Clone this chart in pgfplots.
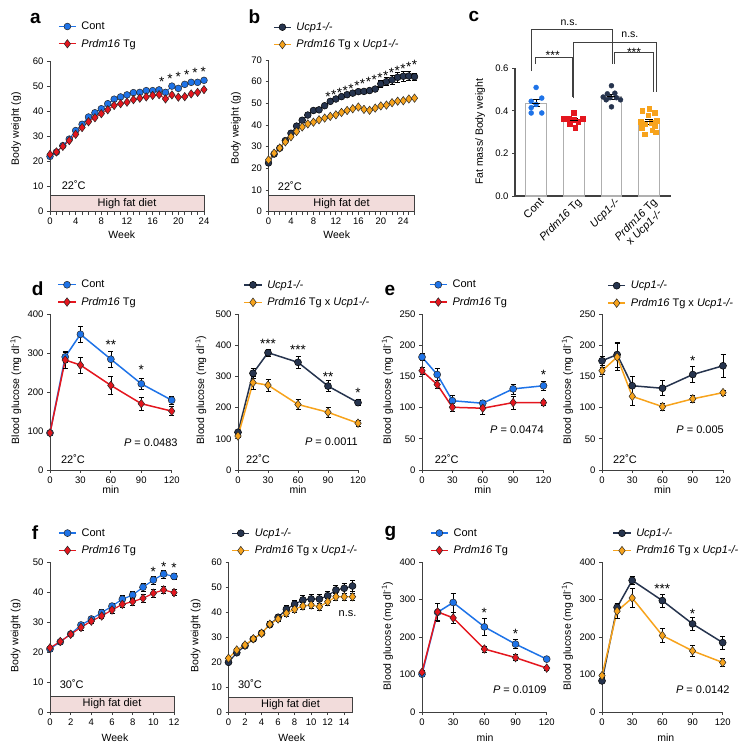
\documentclass[border=0pt]{standalone}
\usepackage{fontspec}
\setmainfont{Liberation Sans}
\usepackage{pgfplots}
\pgfplotsset{compat=1.18}
\definecolor{cblue}{RGB}{30,115,232}
\definecolor{cred}{RGB}{228,22,30}
\definecolor{cnavy}{RGB}{38,52,78}
\definecolor{corange}{RGB}{247,163,28}
\definecolor{axcol}{RGB}{64,64,64}
\definecolor{hfd}{RGB}{242,220,219}
\definecolor{bargray}{RGB}{175,175,175}
\tikzset{txt/.style={font=\fontsize{11}{12}\selectfont, inner sep=1pt},
  ast/.style={font=\fontsize{13.5}{14}\selectfont, yshift=-2.5pt, inner sep=0pt}}
\pgfplotsset{
  myaxis/.style={
    scale only axis, anchor=south west, clip=false,
    axis lines=left, axis line style={-, draw=axcol, line width=0.8pt},
    tick align=outside, major tick length=3pt, minor tick length=3pt,
    tick style={draw=axcol, line width=0.8pt},
    tick label style={font=\fontsize{9.5}{10}\selectfont, text=black},
    /pgf/number format/assume math mode=true,
    label style={font=\fontsize{10.5}{12}\selectfont},
    xlabel style={anchor=center}, ylabel style={anchor=center},
    legend style={draw=none, fill=none, anchor=north west, font=\fontsize{11}{13}\selectfont, row sep=4pt, inner sep=0pt, column sep=3pt},
    legend cell align=left,
    error bars/error bar style={black, line width=0.6pt},
    error bars/error mark options={rotate=90, mark size=2.5pt, black, line width=0.6pt},
  },
  pb/.style={cblue, line width=1.5pt, mark=*, mark size=3.5pt, mark options={solid, fill=cblue, draw=black!85, line width=0.5pt}},
  pr/.style={cred, line width=1.5pt, mark=diamond*, mark size=4.3pt, mark options={solid, fill=cred, draw=black!85, line width=0.5pt}},
  pn/.style={cnavy, line width=1.5pt, mark=*, mark size=3.5pt, mark options={solid, fill=cnavy, draw=black, line width=0.5pt}},
  po/.style={corange, line width=1.5pt, mark=diamond*, mark size=4.3pt, mark options={solid, fill=corange, draw=black!85, line width=0.5pt}},
  eb/.style={error bars/.cd, y dir=both, y explicit},
}
\begin{document}
\begin{tikzpicture}[x=1pt,y=1pt]
\path[use as bounding box] (0,0) rectangle (751,751);
% panel letters
\node[anchor=base west, font=\fontsize{19}{20}\selectfont\bfseries] at (26.7,727) {a};
\node[anchor=base west, font=\fontsize{19}{20}\selectfont\bfseries] at (245,727.7) {b};
\node[anchor=base west, font=\fontsize{19}{20}\selectfont\bfseries] at (465,729) {c};
\node[anchor=base west, font=\fontsize{19}{20}\selectfont\bfseries] at (28.3,455) {d};
\node[anchor=base west, font=\fontsize{19}{20}\selectfont\bfseries] at (381,455) {e};
\node[anchor=base west, font=\fontsize{19}{20}\selectfont\bfseries] at (28.3,211.7) {f};
\node[anchor=base west, font=\fontsize{19}{20}\selectfont\bfseries] at (381,214) {g};

% ---------------- a
\begin{axis}[myaxis, at={(50pt,539.3pt)}, width=154pt, height=150.7pt,
  xmin=0, xmax=24, ymin=0, ymax=60, xtick={0,4,...,24}, minor xtick={0,1,...,24}, ytick={0,10,...,60},
  xlabel={Week}, ylabel={Body weight (g)},
  xlabel style={at={(axis description cs:0.466,-0.15)}},
  ylabel style={at={(axis description cs:-0.22,0.55)}},
  legend style={at={(axis description cs:0.053,1.274)}}]
\draw[fill=hfd, draw=axcol, line width=0.8pt] (axis cs:0,0) rectangle (axis cs:24,6.65);
\node[txt] at (axis cs:12,3.3) {High fat diet};
\addplot[pb, line width=1pt, mark size=3.4pt] coordinates {(0,22.0)(1,23.7)(2,26.3)(3,28.9)(4,32.3)(5,34.8)(6,37.7)(7,39.4)(8,41.0)(9,43.0)(10,44.8)(11,45.7)(12,46.5)(13,47.4)(14,47.5)(15,48.2)(16,48.2)(17,48.5)(18,47.5)(19,50.0)(20,49.1)(21,50.7)(22,51.5)(23,51.5)(24,52.3)};
\addlegendentry{Cont}
\addplot[pr, line width=1pt, mark size=4.2pt] coordinates {(0,22.8)(1,23.8)(2,26.0)(3,28.3)(4,30.8)(5,33.5)(6,35.8)(7,37.4)(8,39.0)(9,40.6)(10,42.3)(11,43.0)(12,43.6)(13,44.6)(14,45.2)(15,45.7)(16,46.3)(17,46.6)(18,44.9)(19,46.5)(20,45.6)(21,45.8)(22,46.9)(23,47.5)(24,48.6)};
\addlegendentry{\textit{Prdm16} Tg}
\node[txt] at (axis cs:3.7,10.4) {22˚C};
\node[ast] at (axis cs:17.4,52.5) {*};
\node[ast] at (axis cs:18.7,53.8) {*};
\node[ast] at (axis cs:20.0,54.7) {*};
\node[ast] at (axis cs:21.3,55.5) {*};
\node[ast] at (axis cs:22.6,56.1) {*};
\node[ast] at (axis cs:23.9,56.5) {*};
\end{axis}

% ---------------- b
\begin{axis}[myaxis, at={(268.5pt,539.3pt)}, width=146pt, height=151.7pt,
  xmin=0, xmax=26, ymin=0, ymax=70, xtick={0,4,...,24}, minor xtick={0,1,...,26}, ytick={0,10,...,70},
  xlabel={Week}, ylabel={Body weight (g)},
  xlabel style={at={(axis description cs:0.467,-0.149)}},
  ylabel style={at={(axis description cs:-0.224,0.55)}},
  legend style={at={(axis description cs:0.032,1.262)}}]
\draw[fill=hfd, draw=axcol, line width=0.8pt] (axis cs:0,0) rectangle (axis cs:26,7.7);
\node[txt] at (axis cs:13,3.85) {High fat det};
\addplot[pn, line width=1pt, mark size=3.4pt, eb] coordinates {(0,22.5)(1,26.6)(2,29.3)(3,32.8)(4,36.2)(5,39.5)(6,42.2)(7,44.6)(8,46.7)(9,47.0)(10,48.9)(11,50.9)(12,52.0)(13,53.1)(14,54.0)(15,54.7)(16,55.4)(17,55.5)(18,55.9)(19,56.6)(20,59.0)+-(0,1.8)(21,60.0)+-(0,1.8)(22,60.8)+-(0,2)(23,62.0)+-(0,2.2)(24,62.5)+-(0,2.2)(25,62.6)+-(0,2)(26,62.3)+-(0,1.5)};
\addlegendentry{\textit{Ucp1-/-}}
\addplot[po, line width=1pt, mark size=4.2pt] coordinates {(0,23.9)(1,27.0)(2,29.4)(3,32.2)(4,34.6)(5,37.0)(6,39.1)(7,40.5)(8,41.3)(9,42.4)(10,43.2)(11,44.0)(12,44.7)(13,45.8)(14,46.7)(15,47.5)(16,48.3)(17,47.2)(18,46.8)(19,47.8)(20,48.8)(21,49.2)(22,50.3)(23,51.0)(24,51.2)(25,52.0)(26,52.4)};
\addlegendentry{\textit{Prdm16} Tg x \textit{Ucp1-/-}}
\node[txt] at (axis cs:3.8,12) {22˚C};
\node[ast] at (axis cs:10.6,54) {*};
\node[ast] at (axis cs:11.63,55) {*};
\node[ast] at (axis cs:12.65,56) {*};
\node[ast] at (axis cs:13.68,57) {*};
\node[ast] at (axis cs:14.71,58) {*};
\node[ast] at (axis cs:15.74,59) {*};
\node[ast] at (axis cs:16.76,60) {*};
\node[ast] at (axis cs:17.79,61) {*};
\node[ast] at (axis cs:18.82,62) {*};
\node[ast] at (axis cs:19.84,63) {*};
\node[ast] at (axis cs:20.87,64) {*};
\node[ast] at (axis cs:21.9,65) {*};
\node[ast] at (axis cs:22.92,66) {*};
\node[ast] at (axis cs:23.95,67) {*};
\node[ast] at (axis cs:24.98,68) {*};
\node[ast] at (axis cs:26.0,69) {*};
\end{axis}

% ---------------- c
\begin{axis}[myaxis, at={(515pt,555pt)}, width=156pt, height=127.7pt,
  xmin=-0.56, xmax=3.58, ymin=0, ymax=0.6, ytick={0,0.2,0.4,0.6},
  axis line style={line width=1.2pt},
  yticklabel style={/pgf/number format/.cd, fixed, fixed zerofill, precision=1},
  xtick={0,1,2,3}, x tick style={draw=none},
  xticklabels={Cont, \textit{Prdm16} Tg, \textit{Ucp1-/-}, {\textit{Prdm16} Tg\\x \textit{Ucp1-/-}}},
  xticklabel style={rotate=45, anchor=north east, align=center, font=\fontsize{11}{11.5}\selectfont, xshift=4pt, inner sep=0.5pt},
  ylabel={Fat mass/ Body weight}, ylabel style={at={(axis description cs:-0.224,0.503)}}]
\addplot[ybar, bar shift=0pt, bar width=0.55, fill=white, draw=bargray, line width=1.1pt] coordinates {(0,0.436)(1,0.356)(2,0.466)(3,0.348)};
\addplot[only marks, mark=*, mark size=2.5pt, mark options={fill=cblue, draw=cblue}] coordinates {(0,0.51)(0.15,0.46)(-0.13,0.445)(0,0.43)(-0.13,0.415)(-0.13,0.39)(0.15,0.39)};
\addplot[only marks, mark=square*, mark size=2.3pt, mark options={fill=cred, draw=cred}] coordinates {(1,0.391)(0.86,0.365)(1.24,0.362)(0.74,0.362)(1,0.358)(1.12,0.35)(0.89,0.34)(1.04,0.321)};
\addplot[only marks, mark=*, mark size=2.5pt, mark options={fill=cnavy, draw=cnavy}] coordinates {(2,0.518)(1.89,0.48)(2.09,0.483)(1.78,0.465)(1.96,0.462)(2.13,0.462)(2.24,0.452)(1.86,0.452)(2,0.419)};
\addplot[only marks, mark=square*, mark size=2.3pt, mark options={fill=corange, draw=corange}] coordinates {(3,0.41)(2.82,0.40)(3.15,0.39)(2.97,0.38)(3.2,0.355)(2.78,0.35)(3.05,0.345)(2.9,0.34)(3.15,0.33)(2.8,0.32)(3.08,0.31)(3.18,0.30)(2.88,0.29)};
\addplot[only marks, mark=-, mark size=4pt, mark options={black, line width=1pt}, error bars/.cd, y dir=both, y explicit, error bar style={black, line width=0.9pt}, error mark options={rotate=90, mark size=4pt, black, line width=0.9pt}] coordinates {(0,0.436)+-(0,0.016)(1,0.356)+-(0,0.01)(2,0.466)+-(0,0.011)(3,0.348)+-(0,0.012)};
\draw[axcol, line width=0.7pt] (axis cs:-0.114,0.587) |- (axis cs:2.02,0.783) -- (axis cs:2.02,0.62);
\draw[axcol, line width=0.7pt] (axis cs:0.99,0.459) |- (axis cs:3.18,0.724) -- (axis cs:3.18,0.49);
\draw[axcol, line width=0.7pt] (axis cs:-0.03,0.62) |- (axis cs:0.95,0.651) -- (axis cs:0.95,0.466);
\draw[axcol, line width=0.7pt] (axis cs:2.08,0.62) |- (axis cs:3.11,0.675) -- (axis cs:3.11,0.49);
\node[font=\fontsize{10.5}{11}\selectfont, inner sep=1pt] at (axis cs:0.875,0.814) {n.s.};
\node[font=\fontsize{10.5}{11}\selectfont, inner sep=1pt] at (axis cs:2.49,0.756) {n.s.};
\node[font=\fontsize{12}{13}\selectfont, inner sep=0pt] at (axis cs:0.44,0.66) {***};
\node[font=\fontsize{12}{13}\selectfont, inner sep=0pt] at (axis cs:2.6,0.676) {***};
\end{axis}

% ---------------- d1
\begin{axis}[myaxis, at={(50pt,281pt)}, width=121.7pt, height=156pt,
  xmin=0, xmax=120, ymin=0, ymax=400, xtick={0,30,...,120}, ytick={0,100,...,400},
  xlabel={min}, ylabel={Blood glucose (mg dl\textsuperscript{-1})},
  xlabel style={at={(axis description cs:0.5,-0.128)}},
  ylabel style={at={(axis description cs:-0.281,0.513)}},
  legend style={at={(axis description cs:0.062,1.231)}}]
\addplot[pb, eb] coordinates {(0,95)+-(0,5)(15,290)+-(0,15)(30,348)+-(0,20)(60,284)+-(0,20)(90,221)+-(0,15)(120,179)+-(0,10)};
\addlegendentry{Cont}
\addplot[pr, eb] coordinates {(0,95)+-(0,5)(15,282)+-(0,20)(30,269)+-(0,20)(60,217)+-(0,22)(90,170)+-(0,17)(120,151)+-(0,12)};
\addlegendentry{\textit{Prdm16} Tg}
\node[ast] at (axis cs:60,327) {**};
\node[ast] at (axis cs:90,262) {*};
\node[txt, anchor=east] at (axis cs:127,70) {\textit{P} = 0.0483};
\node[txt] at (axis cs:22.7,28) {22˚C};
\end{axis}

% ---------------- d2
\begin{axis}[myaxis, at={(238pt,281pt)}, width=120pt, height=156pt,
  xmin=0, xmax=120, ymin=0, ymax=500, xtick={0,30,...,120}, ytick={0,100,...,500},
  xlabel={min}, ylabel={Blood glucose (mg dl\textsuperscript{-1})},
  xlabel style={at={(axis description cs:0.5,-0.128)}},
  ylabel style={at={(axis description cs:-0.31,0.513)}},
  legend style={at={(axis description cs:0.046,1.231)}}]
\addplot[pn, eb] coordinates {(0,121)+-(0,6)(15,310)+-(0,15)(30,376)+-(0,12)(60,345)+-(0,20)(90,269)+-(0,18)(120,216)+-(0,10)};
\addlegendentry{\textit{Ucp1-/-}}
\addplot[po, eb] coordinates {(0,109)+-(0,5)(15,280)+-(0,20)(30,272)+-(0,20)(60,210)+-(0,15)(90,185)+-(0,17)(120,150)+-(0,10)};
\addlegendentry{\textit{Prdm16} Tg x \textit{Ucp1-/-}}
\node[ast] at (axis cs:30,413) {***};
\node[ast] at (axis cs:60,392) {***};
\node[ast] at (axis cs:90,307) {**};
\node[ast] at (axis cs:120,254) {*};
\node[txt, anchor=east] at (axis cs:121,91) {\textit{P} = 0.0011};
\node[txt] at (axis cs:20,35) {22˚C};
\end{axis}

% ---------------- e1
\begin{axis}[myaxis, at={(422pt,281pt)}, width=121.5pt, height=156pt,
  xmin=0, xmax=120, ymin=0, ymax=250, xtick={0,30,...,120}, ytick={0,50,...,250},
  xlabel={min}, ylabel={Blood glucose (mg dl\textsuperscript{-1})},
  xlabel style={at={(axis description cs:0.5,-0.128)}},
  ylabel style={at={(axis description cs:-0.284,0.513)}},
  legend style={at={(axis description cs:0.056,1.231)}}]
\addplot[pb, eb] coordinates {(0,181)+-(0,6)(15,153)+-(0,10)(30,111)+-(0,8)(60,107)+-(0,5)(90,130)+-(0,8)(120,135)+-(0,7)};
\addlegendentry{Cont}
\addplot[pr, eb] coordinates {(0,159)+-(0,5)(15,137)+-(0,6)(30,100.5)+-(0,6)(60,99)+-(0,10)(90,108)+-(0,10)(120,108)+-(0,4)};
\addlegendentry{\textit{Prdm16} Tg}
\node[ast] at (axis cs:120,156) {*};
\node[txt, anchor=east] at (axis cs:121.4,64) {\textit{P} = 0.0474};
\node[txt] at (axis cs:24.4,17.6) {22˚C};
\end{axis}

% ---------------- e2
\begin{axis}[myaxis, at={(602pt,281pt)}, width=121pt, height=156pt,
  xmin=0, xmax=120, ymin=0, ymax=250, xtick={0,30,...,120}, ytick={0,50,...,250},
  xlabel={min}, ylabel={Blood glucose (mg dl\textsuperscript{-1})},
  xlabel style={at={(axis description cs:0.5,-0.128)}},
  ylabel style={at={(axis description cs:-0.285,0.513)}},
  legend style={at={(axis description cs:0.043,1.226)}}]
\addplot[pn, eb] coordinates {(0,175)+-(0,8)(15,185)+-(0,20)(30,135)+-(0,15)(60,131)+-(0,12)(90,153)+-(0,13)(120,167)+-(0,18)};
\addlegendentry{\textit{Ucp1-/-}}
\addplot[po, eb] coordinates {(0,159)+-(0,6)(15,181)+-(0,22)(30,118)+-(0,15)(60,101.5)+-(0,6)(90,114)+-(0,6)(120,124)+-(0,4)};
\addlegendentry{\textit{Prdm16} Tg x \textit{Ucp1-/-}}
\node[ast] at (axis cs:90,179) {*};
\node[txt, anchor=east] at (axis cs:122,65) {\textit{P} = 0.005};
\node[txt] at (axis cs:22.8,17.6) {22˚C};
\end{axis}

% ---------------- f1
\begin{axis}[myaxis, at={(50pt,39pt)}, width=124pt, height=150pt,
  xmin=0, xmax=12, ymin=0, ymax=50, xtick={0,2,...,12}, ytick={0,10,...,50},
  xlabel={Week}, ylabel={Body weight (g)},
  xlabel style={at={(axis description cs:0.524,-0.173)}},
  ylabel style={at={(axis description cs:-0.276,0.508)}},
  legend style={at={(axis description cs:0.066,1.238)}}]
\draw[fill=hfd, draw=axcol, line width=0.8pt] (axis cs:0,0) rectangle (axis cs:12,5.3);
\node[txt] at (axis cs:6,2.65) {High fat diet};
\addplot[pb, line width=1.2pt, eb] coordinates {(0,21.0)+-(0,0.6)(1,23.4)+-(0,0.7)(2,26.0)+-(0,0.7)(3,29.0)+-(0,0.9)(4,31.0)+-(0,0.9)(5,33.1)+-(0,1)(6,35.3)+-(0,1.1)(7,37.6)+-(0,1.3)(8,39.0)+-(0,1.4)(9,41.6)+-(0,1.4)(10,44.0)+-(0,1.4)(11,46.0)+-(0,1.3)(12,45.2)+-(0,1.1)};
\addlegendentry{Cont}
\addplot[pr, line width=1.2pt, eb] coordinates {(0,21.4)+-(0,0.6)(1,23.5)+-(0,0.7)(2,25.9)+-(0,0.7)(3,28.2)+-(0,0.8)(4,30.3)+-(0,0.8)(5,32.0)+-(0,0.9)(6,34.0)+-(0,1)(7,35.9)+-(0,1.1)(8,36.8)+-(0,1.2)(9,37.9)+-(0,1.2)(10,39.6)+-(0,1.2)(11,40.7)+-(0,1.2)(12,39.8)+-(0,1)};
\addlegendentry{\textit{Prdm16} Tg}
\node[ast] at (axis cs:10,47.7) {*};
\node[ast] at (axis cs:11,49.3) {*};
\node[ast] at (axis cs:12,48.8) {*};
\node[txt] at (axis cs:2.1,9.2) {30˚C};
\end{axis}

% ---------------- f2
\begin{axis}[myaxis, at={(228.5pt,39pt)}, width=124pt, height=150pt,
  xmin=0, xmax=15, ymin=0, ymax=60, xtick={0,2,...,14}, ytick={0,10,...,60},
  xlabel={Week}, ylabel={Body weight (g)},
  xlabel style={at={(axis description cs:0.51,-0.173)}},
  ylabel style={at={(axis description cs:-0.264,0.508)}},
  legend style={at={(axis description cs:0.024,1.238)}}]
\draw[fill=hfd, draw=axcol, line width=0.8pt] (axis cs:0,0) rectangle (axis cs:15,6.0);
\node[txt] at (axis cs:7.5,3.0) {High fat diet};
\addplot[pn, line width=1.2pt, eb] coordinates {(0,19.9)+-(0,0.6)(1,23.7)+-(0,0.7)(2,26.5)+-(0,0.8)(3,29.2)+-(0,0.9)(4,31.5)+-(0,1)(5,35.0)+-(0,1.1)(6,37.9)+-(0,1.2)(7,41.1)+-(0,1.5)(8,43.1)+-(0,1.6)(9,44.8)+-(0,1.7)(10,45.2)+-(0,1.8)(11,45.2)+-(0,1.8)(12,46.5)+-(0,1.8)(13,48.8)+-(0,2)(14,49.5)+-(0,2)(15,50.4)+-(0,2.2)};
\addlegendentry{\textit{Ucp1-/-}}
\addplot[po, line width=1.2pt, eb] coordinates {(0,21.5)+-(0,0.6)(1,24.8)+-(0,0.7)(2,26.8)+-(0,0.8)(3,29.3)+-(0,0.9)(4,31.5)+-(0,1)(5,35.1)+-(0,1)(6,37.2)+-(0,1.1)(7,39.5)+-(0,1.2)(8,41.1)+-(0,1.3)(9,42.4)+-(0,1.4)(10,42.8)+-(0,1.4)(11,42.1)+-(0,1.4)(12,44.1)+-(0,1.4)(13,46.1)+-(0,1.5)(14,46.1)+-(0,1.5)(15,46.1)+-(0,1.5)};
\addlegendentry{\textit{Prdm16} Tg x \textit{Ucp1-/-}}
\node[txt] at (axis cs:14.4,39.5) {n.s.};
\node[txt] at (axis cs:2.6,11) {30˚C};
\end{axis}

% ---------------- g1
\begin{axis}[myaxis, at={(422pt,39pt)}, width=124.7pt, height=150pt,
  xmin=0, xmax=120, ymin=0, ymax=400, xtick={0,30,...,120}, ytick={0,100,...,400},
  xlabel={min}, ylabel={Blood glucose (mg dl\textsuperscript{-1})},
  xlabel style={at={(axis description cs:0.505,-0.173)}},
  ylabel style={at={(axis description cs:-0.277,0.508)}},
  legend style={at={(axis description cs:0.063,1.238)}}]
\addplot[pb, eb] coordinates {(0,101)+-(0,5)(15,266)+-(0,25)(30,292)+-(0,25)(60,227)+-(0,22)(90,181)+-(0,12)(120,141)+-(0,5)};
\addlegendentry{Cont}
\addplot[pr, eb] coordinates {(0,106)+-(0,5)(15,267)+-(0,22)(30,251)+-(0,15)(60,168)+-(0,8)(90,145)+-(0,8)(120,117)+-(0,5)};
\addlegendentry{\textit{Prdm16} Tg}
\node[ast] at (axis cs:60,272) {*};
\node[ast] at (axis cs:90,216) {*};
\node[txt, anchor=east] at (axis cs:121,58.7) {\textit{P} = 0.0109};
\end{axis}

% ---------------- g2
\begin{axis}[myaxis, at={(602pt,39pt)}, width=120.7pt, height=150pt,
  xmin=0, xmax=120, ymin=0, ymax=400, xtick={0,30,...,120}, ytick={0,100,...,400},
  xlabel={min}, ylabel={Blood glucose (mg dl\textsuperscript{-1})},
  xlabel style={at={(axis description cs:0.528,-0.173)}},
  ylabel style={at={(axis description cs:-0.286,0.508)}},
  legend style={at={(axis description cs:0.087,1.238)}}]
\addplot[pn, eb] coordinates {(0,83)+-(0,5)(15,279)+-(0,10)(30,351)+-(0,10)(60,297)+-(0,18)(90,235)+-(0,18)(120,185)+-(0,18)};
\addlegendentry{\textit{Ucp1-/-}}
\addplot[po, eb] coordinates {(0,97)+-(0,5)(15,269)+-(0,20)(30,304)+-(0,25)(60,204)+-(0,18)(90,163)+-(0,15)(120,132)+-(0,10)};
\addlegendentry{\textit{Prdm16} Tg x \textit{Ucp1-/-}}
\node[ast] at (axis cs:60,336) {***};
\node[ast] at (axis cs:90,269) {*};
\node[txt, anchor=east] at (axis cs:128,58.7) {\textit{P} = 0.0142};
\end{axis}
\end{tikzpicture}
\end{document}
